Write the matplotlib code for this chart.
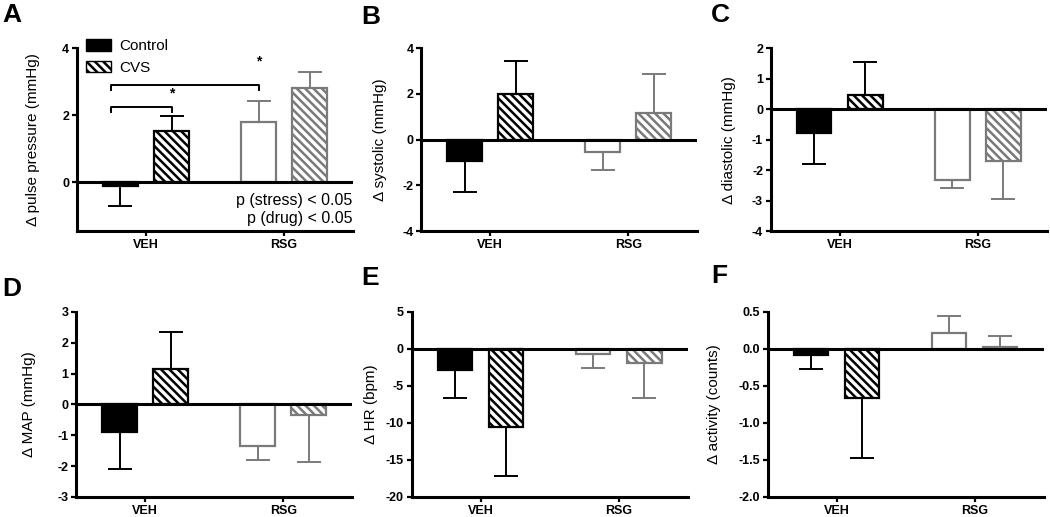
import matplotlib.pyplot as plt
from matplotlib.patches import Patch
import numpy as np

plt.rcParams['font.family'] = ['Liberation Sans', 'DejaVu Sans']
plt.rcParams['hatch.linewidth'] = 1.8

groups = ['VEH', 'RSG']

# means and one-sided error (SEM) for each panel, ordered [VEH, RSG]
pulse_ctrl = [-0.10, 1.80]
pulse_ctrl_err = [0.59, 0.63]
pulse_cvs = [1.53, 2.80]
pulse_cvs_err = [0.45, 0.49]

sys_ctrl = [-0.95, -0.54]
sys_ctrl_err = [1.34, 0.80]
sys_cvs = [1.99, 1.18]
sys_cvs_err = [1.44, 1.68]

dia_ctrl = [-0.80, -2.33]
dia_ctrl_err = [1.00, 0.25]
dia_cvs = [0.45, -1.70]
dia_cvs_err = [1.10, 1.25]

map_ctrl = [-0.90, -1.34]
map_ctrl_err = [1.20, 0.45]
map_cvs = [1.15, -0.33]
map_cvs_err = [1.19, 1.52]

hr_ctrl = [-2.84, -0.72]
hr_ctrl_err = [3.83, 1.88]
hr_cvs = [-10.5, -1.85]
hr_cvs_err = [6.70, 4.82]

act_ctrl = [-0.08, 0.22]
act_ctrl_err = [0.195, 0.225]
act_cvs = [-0.66, 0.03]
act_cvs_err = [0.81, 0.145]

GREY = '#7a7a7a'
group_col = ['black', GREY]
HATCH = '\\\\\\\\'

fig = plt.figure(figsize=(10.5, 5.17), dpi=100)
FW, FH = 1050, 517


def panel(rect, ctrl, ctrl_err, cvs, cvs_err, ylim, yticks, ylabel, fmt, letter, lab_x, let_xy):
    ax = fig.add_axes(rect)
    x = np.arange(len(groups))
    w = 0.25
    series = [(ctrl, ctrl_err, -0.185, None), (cvs, cvs_err, 0.185, HATCH)]
    for means, errs, off, hatch in series:
        pos = x + off
        if hatch is None:
            faces = ['black', 'white']
        else:
            faces = ['white', 'white']
        ax.bar(pos, means, w, color=faces, edgecolor=group_col, linewidth=1.6,
               hatch=hatch, zorder=2)
        for i in range(len(groups)):
            m, e = means[i], errs[i]
            lo = e if m < 0 else 0
            hi = e if m >= 0 else 0
            ax.errorbar(pos[i], m, yerr=[[lo], [hi]], color=group_col[i],
                        elinewidth=1.4, capsize=8.5, capthick=1.4, zorder=1)
    ax.axhline(0, color='black', lw=2.2, zorder=3)
    ax.set_xlim(-0.5, 1.5)
    ax.set_ylim(*ylim)
    ax.set_yticks(yticks, labels=[fmt.format(t) for t in yticks],
                  fontweight='bold', fontsize=9)
    ax.set_xticks(x, labels=groups, fontweight='bold', fontsize=9)
    ax.tick_params(direction='out', width=1.6, length=3.5)
    ax.tick_params(axis='x', pad=2)
    ax.tick_params(axis='y', pad=2)
    for s in ['top', 'right']:
        ax.spines[s].set_visible(False)
    for s in ['left', 'bottom']:
        ax.spines[s].set_linewidth(2.2)
    ax.set_ylabel(ylabel, fontsize=11)
    ax.yaxis.set_label_coords(lab_x, 0.5)
    fig.text(let_xy[0] / FW, 1 - let_xy[1] / FH, letter,
             fontsize=19, fontweight='bold', va='top', ha='left')
    return ax


W = 0.263
top_b, top_h = 0.553, 0.354
bot_b, bot_h = 0.0387, 0.358

axA = panel([0.0733, top_b, W, top_h], pulse_ctrl, pulse_ctrl_err, pulse_cvs, pulse_cvs_err,
            (-1.45, 4), [0, 2, 4], '\u0394 pulse pressure (mmHg)', '{:g}', 'A', -0.135, (2, 3))
axB = panel([0.401, top_b, W, top_h], sys_ctrl, sys_ctrl_err, sys_cvs, sys_cvs_err,
            (-4, 4), [-4, -2, 0, 2, 4], '\u0394 systolic (mmHg)', '{:g}', 'B', -0.125, (361, 5))
axC = panel([0.734, top_b, W, top_h], dia_ctrl, dia_ctrl_err, dia_cvs, dia_cvs_err,
            (-4, 2), [-4, -3, -2, -1, 0, 1, 2], '\u0394 diastolic (mmHg)', '{:g}', 'C', -0.125, (711, 3))
axD = panel([0.0724, bot_b, W, bot_h], map_ctrl, map_ctrl_err, map_cvs, map_cvs_err,
            (-3, 3), [-3, -2, -1, 0, 1, 2, 3], '\u0394 MAP (mmHg)', '{:g}', 'D', -0.145, (2, 277))
axE = panel([0.392, bot_b, W, bot_h], hr_ctrl, hr_ctrl_err, hr_cvs, hr_cvs_err,
            (-20, 5), [-20, -15, -10, -5, 0, 5], '\u0394 HR (bpm)', '{:g}', 'E', -0.12, (361, 266))
axF = panel([0.731, bot_b, W, bot_h], act_ctrl, act_ctrl_err, act_cvs, act_cvs_err,
            (-2, 0.5), [-2.0, -1.5, -1.0, -0.5, 0.0, 0.5], '\u0394 activity (counts)', '{:.1f}', 'F', -0.17, (711, 264))

# legend in panel A
handles = [Patch(facecolor='black', edgecolor='black', label='Control'),
           Patch(facecolor='white', edgecolor='black', hatch=HATCH, label='CVS')]
axA.legend(handles=handles, loc='upper left', bbox_to_anchor=(0.0, 1.1), frameon=False,
           fontsize=11, handlelength=1.6, handleheight=0.8, labelspacing=0.5,
           handletextpad=0.6, borderaxespad=0.2)

# significance brackets in panel A
xl = -0.25
for xr, yb, ys in [(0.185, 2.25, 2.45), (0.815, 2.9, 3.4)]:
    axA.plot([xl, xl, xr, xr], [yb - 0.15, yb, yb, yb - 0.15], color='black', lw=1.4)
    axA.text(xr, ys, '*', ha='center', va='bottom', fontsize=10, fontweight='bold')

axA.text(0.997, -0.53, 'p (stress) < 0.05', transform=axA.get_yaxis_transform(),
         ha='right', va='center', fontsize=11.5)
axA.text(0.997, -1.06, 'p (drug) < 0.05', transform=axA.get_yaxis_transform(),
         ha='right', va='center', fontsize=11.5)

fig.savefig('out.png', dpi=100)
